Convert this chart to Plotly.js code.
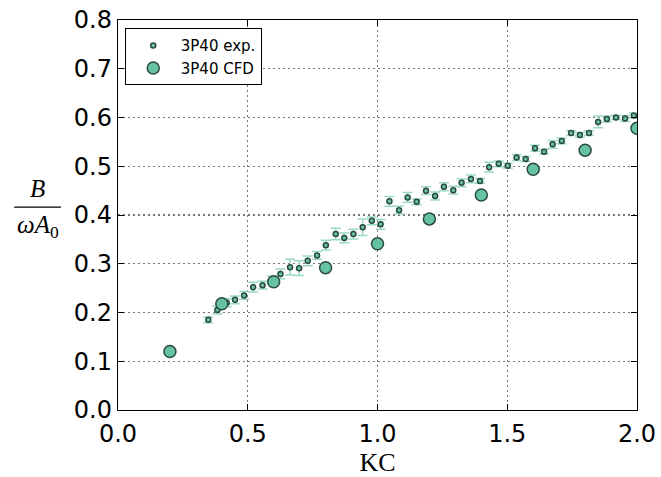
<!DOCTYPE html>
<html>
<head>
<meta charset="utf-8">
<script src="https://cdn.plot.ly/plotly-3.0.1.min.js"></script>
<style>html,body{margin:0;padding:0;background:#fff;}</style>
</head>
<body>
<div id="chart" style="width:661px;height:477px;"></div>
<script>
// Experimental data (3P40 exp.)
var expKC = [0.348,0.383,0.419,0.451,0.486,0.521,0.557,0.592,0.626,0.663,0.698,0.731,0.767,0.801,0.839,0.872,0.907,0.943,0.978,1.012,1.046,1.083,1.116,1.151,1.187,1.222,1.256,1.292,1.324,1.360,1.395,1.430,1.467,1.502,1.536,1.571,1.607,1.642,1.675,1.710,1.746,1.780,1.815,1.850,1.884,1.919,1.954,1.988];
var expB = [0.185,0.205,0.220,0.226,0.235,0.252,0.256,0.267,0.279,0.293,0.291,0.306,0.317,0.338,0.361,0.353,0.361,0.375,0.388,0.381,0.428,0.410,0.436,0.427,0.450,0.439,0.458,0.451,0.466,0.474,0.470,0.498,0.505,0.501,0.518,0.515,0.537,0.530,0.545,0.552,0.568,0.564,0.568,0.591,0.597,0.600,0.598,0.604];
var expErr = [0.006,0.008,0.008,0.008,0.008,0.010,0.008,0.008,0.010,0.016,0.015,0.010,0.008,0.010,0.012,0.010,0.010,0.017,0.008,0.010,0.010,0.008,0.010,0.006,0.008,0.008,0.008,0.008,0.008,0.008,0.005,0.010,0.006,0.005,0.006,0.005,0.006,0.005,0.008,0.006,0.005,0.005,0.005,0.012,0.006,0.004,0.006,0.005];
// CFD data (3P40 CFD)
var cfdKC = [0.2,0.4,0.6,0.8,1.0,1.2,1.4,1.6,1.8,2.0];
var cfdB = [0.120,0.218,0.263,0.292,0.341,0.392,0.441,0.494,0.533,0.578];

var xTicks = [0.0,0.5,1.0,1.5,2.0];
var yTicks = [0.0,0.1,0.2,0.3,0.4,0.5,0.6,0.7,0.8];

var fillCol = '#66c2a5';
var edgeCol = '#2b4a42';
var errCol = '#9ad9c8';

var traces = [
  {
    x: expKC, y: expB, type: 'scatter', mode: 'markers', name: '3P40 exp.',
    marker: {symbol: 'circle', size: 5, color: fillCol, line: {color: edgeCol, width: 1.5}},
    error_y: {type: 'data', array: expErr, visible: true, color: errCol, thickness: 1.5, width: 5}
  },
  {
    x: cfdKC, y: cfdB, type: 'scatter', mode: 'markers', name: '3P40 CFD',
    marker: {symbol: 'circle', size: 12, color: fillCol, line: {color: edgeCol, width: 1.5}}
  }
];

var axisCommon = {
  showline: true, linecolor: '#000', linewidth: 1.2, mirror: 'allticks',
  ticks: 'inside', ticklen: 6, tickcolor: '#000', tickwidth: 1,
  showgrid: true, gridcolor: '#777', griddash: '1.5px,3.5px', gridwidth: 1.2,
  zeroline: false,
  tickfont: {family: 'DejaVu Sans', size: 24, color: '#000'},
  tickformat: '.1f'
};

var layout = {
  width: 661, height: 477,
  margin: {l: 118, r: 24, t: 20, b: 67},
  paper_bgcolor: '#fff', plot_bgcolor: '#fff',
  xaxis: Object.assign({}, axisCommon, {range: [0, 2], tickvals: xTicks, ticklabelstandoff: 2,
    title: {text: 'KC', font: {family: 'Liberation Serif', size: 26, color: '#000'}, standoff: 8}}),
  yaxis: Object.assign({}, axisCommon, {range: [0, 0.8], tickvals: yTicks}),
  showlegend: true,
  legend: {x: 0.013, y: 0.979, xanchor: 'left', yanchor: 'top',
    bgcolor: '#fff', bordercolor: '#000', borderwidth: 1, itemwidth: 45,
    font: {family: 'DejaVu Sans', size: 15, color: '#000'}},
  annotations: [
    {xref: 'paper', yref: 'paper', x: -0.155, y: 0.528, xanchor: 'center', yanchor: 'bottom', showarrow: false,
     text: '<i>B</i>', font: {family: 'Liberation Serif', size: 25, color: '#000'}},
    {xref: 'paper', yref: 'paper', x: -0.155, y: 0.515, xanchor: 'center', yanchor: 'top', showarrow: false,
     text: '<i>ωA</i><sub>0</sub>', font: {family: 'Liberation Serif', size: 25, color: '#000'}}
  ],
  shapes: [
    {type: 'line', xref: 'paper', yref: 'paper', x0: -0.2, x1: -0.11, y0: 0.52, y1: 0.52,
     line: {color: '#000', width: 1.2}}
  ]
};

Plotly.newPlot('chart', traces, layout, {displayModeBar: false, staticPlot: true});
</script>
</body>
</html>
